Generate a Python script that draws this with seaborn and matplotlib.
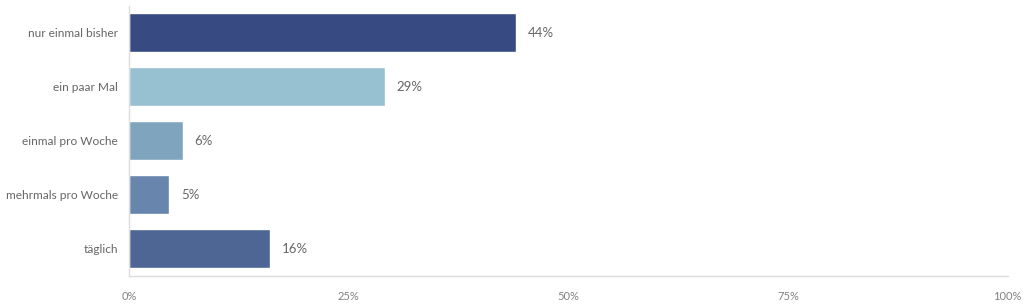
import matplotlib
matplotlib.use("Agg")
import matplotlib.pyplot as plt
import seaborn as sns
import pandas as pd

categories = ["nur einmal bisher", "ein paar Mal", "einmal pro Woche", "mehrmals pro Woche", "täglich"]
values = [44.1, 29.1, 6.1, 4.6, 16.0]
colors = ["#374a82", "#97c1d1", "#7fa4bd", "#6886ad", "#4d6694"]
xticks = [0, 25, 50, 75, 100]
xticklabels = ["0%", "25%", "50%", "75%", "100%"]

sns.set_theme(style="white")
plt.rcParams['font.family'] = ['Lato', 'DejaVu Sans']

df = pd.DataFrame({"cat": categories, "val": values})
fig = plt.figure(figsize=(10.24, 3.06), dpi=100)
ax = fig.add_axes([0.126, 0.098, 0.858, 0.884])
sns.barplot(data=df, y="cat", x="val", hue="cat", palette=colors, order=categories,
            hue_order=categories, width=0.72, legend=False, ax=ax, saturation=1)

for i, v in enumerate(values):
    ax.annotate(f"{round(v)}%", xy=(v, i), xytext=(8.5, 0), textcoords="offset points",
                va="center", ha="left", fontsize=9.5, color="#666666")

ax.set_xlim(0, 100)
ax.set_ylim(4.5, -0.5)
ax.set_xticks(xticks)
ax.set_xticklabels(xticklabels, fontsize=8, color="#808080")
ax.tick_params(axis="x", length=0, pad=11)
ax.tick_params(axis="y", length=0, pad=8, labelsize=8.6, labelcolor="#666666")
ax.set_xlabel("")
ax.set_ylabel("")
for s in ["top", "right"]:
    ax.spines[s].set_visible(False)
for s in ["left", "bottom"]:
    ax.spines[s].set_color("#dddddd")
    ax.spines[s].set_linewidth(1)

fig.savefig("out.png", dpi=100)
